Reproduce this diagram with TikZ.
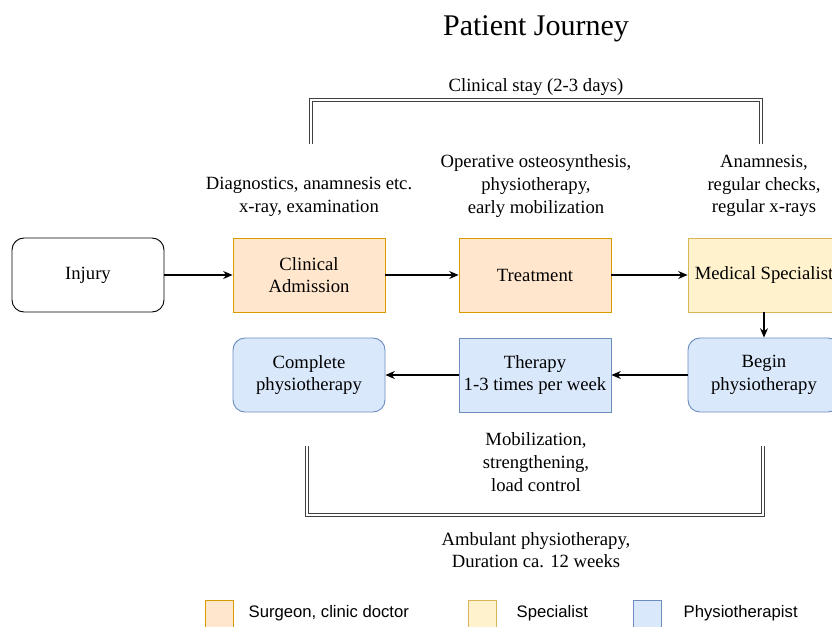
\documentclass[tikz,border=0pt]{standalone}
\usepackage{fontspec}
\setmainfont{Liberation Serif}
\newfontfamily\legendfont{Liberation Sans}
\usetikzlibrary{arrows.meta}
\definecolor{orfill}{HTML}{FFE6CC}
\definecolor{ordraw}{HTML}{D79B00}
\definecolor{yefill}{HTML}{FFF2CC}
\definecolor{yedraw}{HTML}{D6B656}
\definecolor{blfill}{HTML}{DAE8FC}
\definecolor{bldraw}{HTML}{6C8EBF}
\tikzset{
  box/.style={minimum width=114pt, minimum height=55.5pt, align=center, font=\fontsize{14}{17}\selectfont, line width=0.7pt, inner sep=2pt},
  orbox/.style={box, draw=ordraw, fill=orfill},
  yebox/.style={box, draw=yedraw, fill=yefill},
  blbox/.style={box, draw=bldraw, fill=blfill},
  rbox/.style={rounded corners=9pt},
  lbl/.style={align=center, font=\fontsize{14}{17}\selectfont},
  arr/.style={-{Stealth[length=7pt, width=6pt]}, line width=0.8pt},
  bracket/.style={draw=black!75, double=white, double distance=2.2pt, line width=0.7pt},
  legbox/.style={minimum width=21pt, minimum height=22pt, line width=0.7pt, inner sep=0pt},
  legtxt/.style={anchor=west, font=\legendfont\fontsize{12.5}{14}\selectfont}
}
\begin{document}
\begin{tikzpicture}[x=0.75pt, y=-0.75pt]
\clip (0,0) rectangle (832,626);
\fill[white] (0,0) rectangle (832,626);
\node[font=\fontsize{22.5}{26}\selectfont] (title) at (536,29) {Patient Journey};

\node[box, draw=black, rbox, fill=white] (inj) at (88,275) {Injury};
\node[orbox] (adm) at (309,275) {Clinical\\Admission};
\node[orbox] (treat) at (535,275) {Treatment};
\node[yebox] (med) at (764,275) {Medical Specialist};
\node[blbox, rbox] (begin) at (764,375) {Begin\\physiotherapy};
\node[blbox] (ther) at (535,375) {Therapy\\1-3 times per week};
\node[blbox, rbox] (comp) at (309,375) {Complete\\physiotherapy};

\draw[arr] (inj) -- (adm);
\draw[arr] (adm) -- (treat);
\draw[arr] (treat) -- (med);
\draw[arr] (med) -- (begin);
\draw[arr] (begin) -- (ther);
\draw[arr] (ther) -- (comp);

\node[lbl] (l1) at (309,197) {Diagnostics, anamnesis etc.\\x-ray, examination};
\node[lbl] (l2) at (536,186) {Operative osteosynthesis,\\physiotherapy,\\early mobilization};
\node[lbl] (l3) at (764,186) {Anamnesis,\\regular checks,\\regular x-rays};
\node[lbl] (l4) at (536,462) {Mobilization,\\strengthening,\\load control};
\node[lbl] (l5) at (536,550) {Ambulant physiotherapy,\\Duration ca. 12 weeks};
\node[lbl] (l6) at (536,87) {Clinical stay (2-3 days)};

\coordinate (ta) at (311,144);
\coordinate (tb) at (311,100);
\coordinate (tc) at (761,100);
\coordinate (td) at (761,144);
\draw[bracket] (ta) -- (tb) -- (tc) -- (td);
\coordinate (ba) at (307,446);
\coordinate (bb) at (307,515);
\coordinate (bc) at (763,515);
\coordinate (bd) at (763,446);
\draw[bracket] (ba) -- (bb) -- (bc) -- (bd);

\node[legbox, draw=ordraw, fill=orfill] (k1) at (219,615) {};
\node[legtxt] (t1) at (244,613) {Surgeon, clinic doctor};
\node[legbox, draw=yedraw, fill=yefill] (k2) at (482,615) {};
\node[legtxt] (t2) at (512,613) {Specialist};
\node[legbox, draw=bldraw, fill=blfill] (k3) at (647,615) {};
\node[legtxt] (t3) at (679,613) {Physiotherapist};
\end{tikzpicture}
\end{document}
